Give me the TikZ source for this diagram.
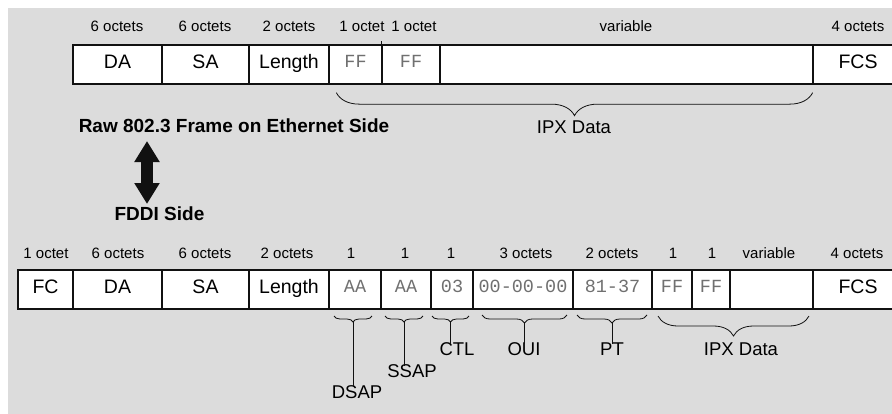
\documentclass[tikz,border=0pt]{standalone}
\usepackage{fontspec}
\setmainfont{Liberation Sans}
\newfontfamily\hexfont{Liberation Mono}
\usetikzlibrary{decorations.pathreplacing,arrows.meta}
\definecolor{bgg}{HTML}{DCDCDC}
\definecolor{hexg}{HTML}{707070}
\definecolor{ink}{HTML}{111111}
\begin{document}
\begin{tikzpicture}[x=1pt,y=-1pt,
 fbox/.style={draw=ink, line width=1.3pt, fill=white, minimum height=39pt, inner sep=0pt,
   font=\fontsize{19.5}{22}\selectfont, text height=0.716em, text depth=0pt},
 hexbox/.style={fbox, font=\hexfont\fontsize{18.5}{20}\selectfont, text=hexg, text height=0.62em},
 oct/.style={inner sep=0pt, font=\fontsize{15}{17}\selectfont, text height=0.716em, text depth=0pt},
 sublab/.style={inner sep=0pt, font=\fontsize{18.5}{21}\selectfont, text height=0.716em, text depth=0pt},
 ttl/.style={inner sep=0pt, font=\bfseries\fontsize{19}{21}\selectfont, text height=0.716em, text depth=0pt},
 brc/.style={decorate, decoration={brace, mirror, amplitude=#1}, line width=0.8pt, draw=ink},
 stem/.style={line width=0.8pt, draw=ink},
 dblarrow/.style={draw=ink, line width=12pt, {Triangle[width=24pt,length=21pt]}-{Triangle[width=24pt,length=21pt]}},
]
\useasboundingbox (0,0) rectangle (892,413);
\clip (0,0) rectangle (892,413);
\fill[bgg] (8,8) rectangle (900,420);

% ---------- top frame ----------
\node[fbox, minimum width=89pt] (tda) at (117.5,64.5) {DA};
\node[fbox, minimum width=87pt] (tsa) at (205.5,64.5) {SA};
\node[fbox, minimum width=80pt] (tlen) at (289,64.5) {Length};
\node[hexbox, minimum width=53pt] (tff1) at (355.5,64.5) {FF};
\node[hexbox, minimum width=58pt] (tff2) at (411,64.5) {FF};
\node[fbox, minimum width=373pt] (tvar) at (626.5,64.5) {};
\node[fbox, minimum width=90pt] (tfcs) at (858,64.5) {FCS};
\draw[line width=1pt, draw=ink] (tff2.north west) -- ++(0,-3);

\node[oct] (o1) at (117,28) {6 octets};
\node[oct] (o2) at (205,28) {6 octets};
\node[oct] (o3) at (289,28) {2 octets};
\node[oct] (o4) at (362,28) {1 octet};
\node[oct] (o5) at (414,28) {1 octet};
\node[oct] (o6) at (626,28) {variable};
\node[oct] (o7) at (858,28) {4 octets};

\draw[brc=23pt] ([xshift=8pt,yshift=-8pt]tff1.south west) -- ([xshift=-1pt,yshift=-8pt]tvar.south east);
\node[sublab] (tipx) at (574,129.5) {IPX Data};

% ---------- titles ----------
\node[ttl] (raw) at (234,129) {Raw 802.3 Frame on Ethernet Side};
\node[ttl] (fddi) at (159.5,216.5) {FDDI Side};
\coordinate (arrTop) at (147,141);
\coordinate (arrBot) at (147,204);
\draw[dblarrow] (arrTop) -- (arrBot);

% ---------- bottom frame ----------
\node[fbox, minimum width=55pt] (bfc) at (45.5,289.5) {FC};
\node[fbox, minimum width=89pt] (bda) at (117.5,289.5) {DA};
\node[fbox, minimum width=87pt] (bsa) at (205.5,289.5) {SA};
\node[fbox, minimum width=80pt] (blen) at (289,289.5) {Length};
\node[hexbox, minimum width=52pt] (baa1) at (355,289.5) {AA};
\node[hexbox, minimum width=50pt] (baa2) at (406,289.5) {AA};
\node[hexbox, minimum width=42pt] (b03) at (452,289.5) {03};
\node[hexbox, minimum width=100pt] (boui) at (523,289.5) {00-00-00};
\node[hexbox, minimum width=79pt] (bpt) at (612.5,289.5) {81-37};
\node[hexbox, minimum width=40pt] (bff1) at (672,289.5) {FF};
\node[hexbox, minimum width=38pt] (bff2) at (711,289.5) {FF};
\node[fbox, minimum width=83pt] (bvar) at (771.5,289.5) {};
\node[fbox, minimum width=90pt] (bfcs) at (858,289.5) {FCS};

\node[oct] (p1) at (46,254.5) {1 octet};
\node[oct] (p2) at (118,254.5) {6 octets};
\node[oct] (p3) at (205,254.5) {6 octets};
\node[oct] (p4) at (287,254.5) {2 octets};
\node[oct] (p5) at (351,254.5) {1};
\node[oct] (p6) at (405,254.5) {1};
\node[oct] (p7) at (451,254.5) {1};
\node[oct] (p8) at (526,254.5) {3 octets};
\node[oct] (p9) at (612,254.5) {2 octets};
\node[oct] (p10) at (673,254.5) {1};
\node[oct] (p11) at (712,254.5) {1};
\node[oct] (p12) at (769,254.5) {variable};
\node[oct] (p13) at (857,254.5) {4 octets};

% small braces
\draw[brc=6pt] (334,316) -- (372,316);
\draw[brc=6pt] (385,316) -- (423,316);
\draw[brc=6pt] (432,316) -- (469,316);
\draw[brc=8pt] (482,315) -- (567,315);
\draw[brc=8pt] (577,315) -- (647,315);
\draw[brc=20pt] (658,316) -- (809,316);

\coordinate (tDSAP) at (353,322);
\coordinate (tSSAP) at (404,322);
\coordinate (tCTL) at (450.5,322);
\coordinate (tOUI) at (524.5,323);
\coordinate (tPT) at (612,323);

\node[sublab] (dsap) at (357,395) {DSAP};
\node[sublab] (ssap) at (412,373.5) {SSAP};
\node[sublab] (ctl) at (457,352) {CTL};
\node[sublab] (oui) at (524,352) {OUI};
\node[sublab] (pt) at (612,352) {PT};
\node[sublab] (bipx) at (741,352) {IPX Data};

\draw[stem] (tDSAP) -- ([yshift=4pt]tDSAP |- dsap.north);
\draw[stem] (tSSAP) -- ([yshift=4pt]tSSAP |- ssap.north);
\draw[stem] (tCTL) -- ([yshift=4pt]tCTL |- ctl.north);
\draw[stem] (tOUI) -- ([yshift=4pt]tOUI |- oui.north);
\draw[stem] (tPT) -- ([yshift=4pt]tPT |- pt.north);
\end{tikzpicture}
\end{document}
